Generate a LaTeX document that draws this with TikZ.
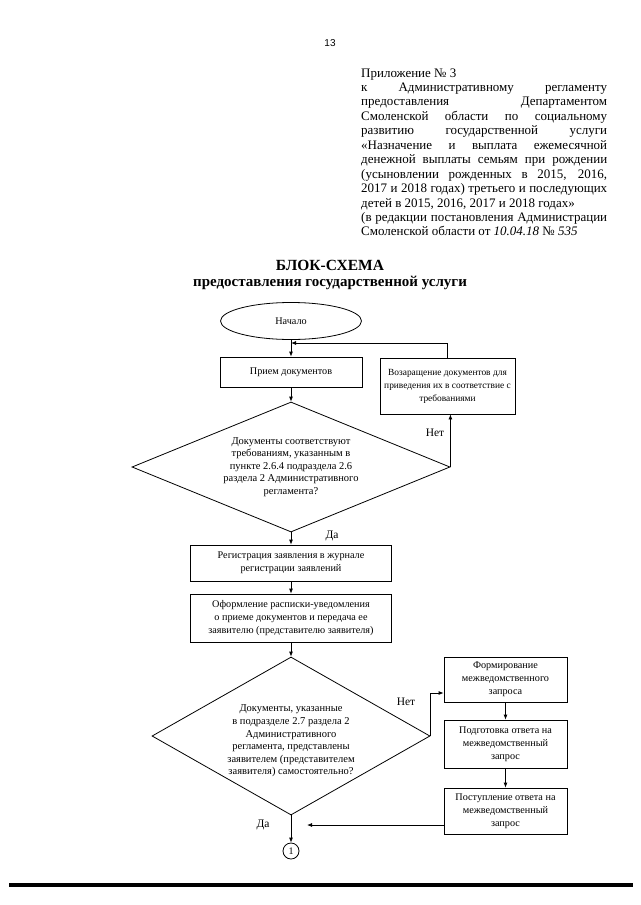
\documentclass[tikz,border=0pt]{standalone}
\usepackage{fontspec}
\setmainfont{Liberation Serif}
\newfontfamily\pagenumfont{Liberation Sans}
\usetikzlibrary{shapes.geometric,arrows.meta}
\hbadness=10000
\newcommand\jl[1]{\hbox to\hsize{#1}}
\tikzset{
	box/.style={draw, line width=0.8pt, align=center, inner sep=1pt, font=\fontsize{10.2}{13}\selectfont},
	dia/.style={draw, diamond, line width=0.8pt, inner sep=0pt},
	diatext/.style={align=center, font=\fontsize{10.5}{12.6}\selectfont},
	arr/.style={-{Latex[length=5pt,width=4pt]}, line width=0.8pt},
	lbl/.style={font=\fontsize{11.5}{13}\selectfont},
}
\begin{document}
\begin{tikzpicture}[x=1pt,y=-1pt]
	\useasboundingbox (0,0) rectangle (640,905);
	\node[font=\pagenumfont\fontsize{10}{12}\selectfont] (pnum) at (330,43) {13};
	\node[anchor=base west, inner sep=0pt] (appx) at (361,77) {\parbox[t]{246pt}{\fontsize{13}{14.45}\selectfont
		\hbox{Приложение № 3}
		\jl{к Административному регламенту}
		\jl{предоставления Департаментом}
		\jl{Смоленской области по социальному}
		\jl{развитию государственной услуги}
		\jl{«Назначение и выплата ежемесячной}
		\jl{денежной выплаты семьям при рождении}
		\jl{(усыновлении рожденных в 2015, 2016,}
		\jl{2017 и 2018 годах) третьего и последующих}
		\hbox{детей в 2015, 2016, 2017 и 2018 годах»}
		\jl{(в редакции постановления Администрации}
		\hbox{Смоленской области от \textit{10.04.18} № \textit{535}}}};
	\node[font=\fontsize{15.5}{17}\selectfont\bfseries] (title) at (330,265) {БЛОК-СХЕМА};
	\node[font=\fontsize{15}{17}\selectfont\bfseries] (subtitle) at (330,283) {предоставления государственной услуги};
	% blocks
	\node[draw, ellipse, line width=0.8pt, minimum width=141pt, minimum height=37pt, font=\fontsize{10.2}{13}\selectfont] (start) at (291,321) {Начало};
	\node[box, minimum width=142pt, minimum height=30pt] (priem) at (291,372) {Прием документов};
	\node[box, minimum width=135pt, minimum height=56pt, font=\fontsize{9.4}{13}\selectfont] (vozvr) at (447.5,386) {Возаращение документов для\\приведения их в соответствие с\\требованиями};
	\node[dia, minimum width=318pt, minimum height=130pt, label={[diatext]center:{Документы соответствуют\\требованиям, указанным в\\пункте 2.6.4 подраздела 2.6\\раздела 2 Административного\\регламента?}}] (d1) at (291,467) {};
	\node[box, minimum width=201pt, minimum height=36pt] (reg) at (291,563) {Регистрация заявления в журнале\\регистрации заявлений};
	\node[box, minimum width=201pt, minimum height=48pt] (oform) at (291,618) {Оформление расписки-уведомления\\о приеме документов и передача ее\\заявителю (представителю заявителя)};
	\node[dia, minimum width=278pt, minimum height=158pt, label={[diatext, yshift=-5pt]center:{Документы, указанные\\в подразделе 2.7 раздела 2\\Административного\\регламента, представлены\\заявителем (представителем\\заявителя) самостоятельно?}}] (d2) at (291,736) {};
	\node[box, minimum width=123pt, minimum height=45pt] (form) at (505.5,679.5) {Формирование\\межведомственного\\запроса};
	\node[box, minimum width=123pt, minimum height=48pt] (podg) at (505.5,744) {Подготовка ответа на\\межведомственный\\запрос};
	\node[box, minimum width=123pt, minimum height=46pt] (post) at (505.5,811) {Поступление ответа на\\межведомственный\\запрос};
	\node[draw, circle, line width=0.8pt, minimum size=16pt, inner sep=0pt, font=\fontsize{10}{12}\selectfont] (c1) at (291,851) {1};
	\coordinate (j1) at (291,343);
	\coordinate (p1) at (307,825);
	% labels
	\node[lbl] (no1) at (435,433) {Нет};
	\node[lbl] (yes1) at (332,536) {Да};
	\node[lbl] (no2) at (406,702) {Нет};
	\node[lbl] (yes2) at (263,825) {Да};
	% connectors
	\draw[arr] (start.south) -- (priem.north);
	\draw[arr] (vozvr.north) |- (j1);
	\draw[arr] (priem.south) -- (d1.north);
	\draw[arr] (d1.east) -- (d1.east |- vozvr.south);
	\draw[arr] (d1.south) -- (reg.north);
	\draw[arr] (reg.south) -- (oform.north);
	\draw[arr] (oform.south) -- (d2.north);
	\draw[arr] (d2.east) |- ([yshift=-13.5pt]form.west);
	\draw[arr] (form.south) -- (podg.north);
	\draw[arr] (podg.south) -- (post.north);
	\draw[arr] (post.west |- p1) -- (p1);
	\draw[arr] (d2.south) -- (c1.north);
	\draw[line width=4pt] (9,885) -- (633,885);
\end{tikzpicture}
\end{document}
